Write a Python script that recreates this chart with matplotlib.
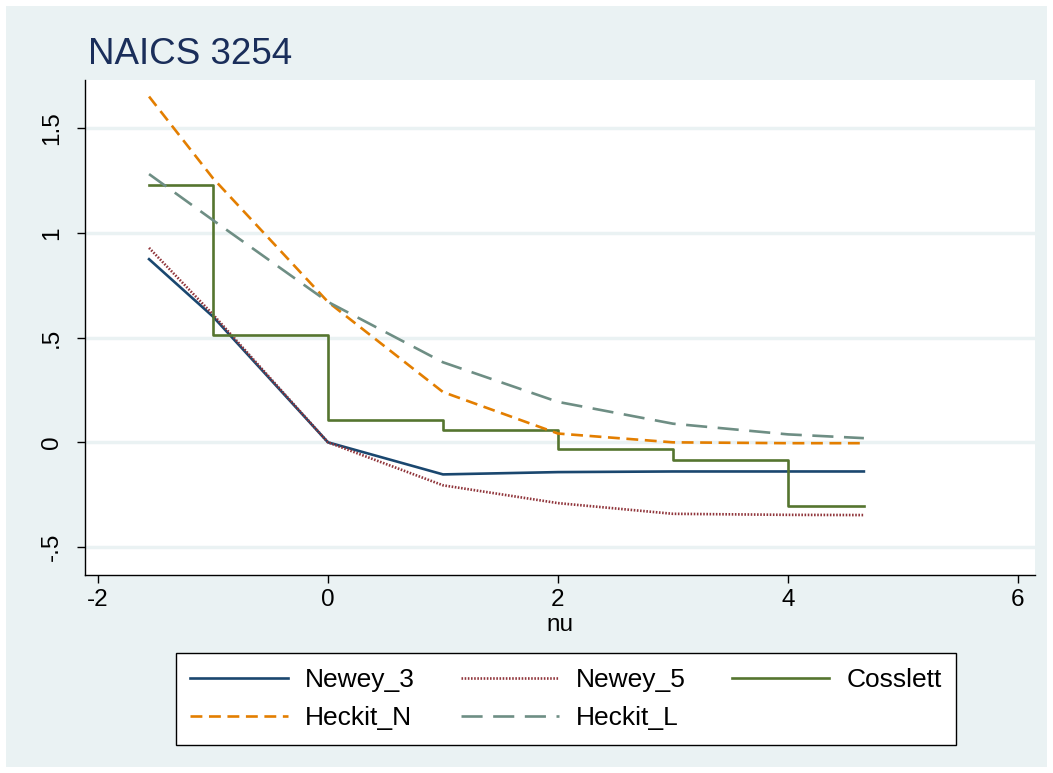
#************ NAICS 3254 : estimates by nu ***************

import matplotlib
matplotlib.use('Agg')
import matplotlib.pyplot as plt
from matplotlib.patches import Rectangle

plt.rcParams['font.family'] = ['Liberation Sans', 'DejaVu Sans']
plt.rcParams['axes.unicode_minus'] = False

#data
nu = [-1.556, -1, 0, 1, 2, 3, 4, 4.66]
newey_3 = [0.874, 0.60, 0.0, -0.153, -0.142, -0.139, -0.139, -0.139]
newey_5 = [0.928, 0.61, 0.0, -0.205, -0.290, -0.341, -0.346, -0.347]
heckit_n = [1.65, 1.26, 0.67, 0.24, 0.042, 0.0, -0.004, -0.004]
heckit_l = [1.28, 1.06, 0.67, 0.382, 0.193, 0.089, 0.038, 0.020]
# Cosslett is a step function, value holds until next nu
cosslett = [1.226, 0.513, 0.107, 0.057, -0.030, -0.083, -0.304, -0.304]

yticks = [-0.5, 0, 0.5, 1, 1.5]
ylabels = ['-.5', '0', '.5', '1', '1.5']
xticks = [-2, 0, 2, 4, 6]

bg = '#eaf2f3'

fig = plt.figure(figsize=(10.53, 7.73), dpi=100)
fig.patch.set_facecolor('white')
fig.patches.append(Rectangle((6/1053, 6/773), 1041/1053, 761/773,
                             transform=fig.transFigure, facecolor=bg,
                             edgecolor='none', zorder=-10))

ax = fig.add_axes([85/1053, 1 - 575/773, 950/1053, 495/773])
ax.set_facecolor('white')

l1, = ax.plot(nu, newey_3, color='#1a476f', lw=1.9, label='Newey_3')
l2, = ax.plot(nu, newey_5, color='#90353b', lw=1.9, ls=(0, (0.6, 0.6)), label='Newey_5')
l3, = ax.step(nu, cosslett, where='post', color='#55752f', lw=1.9, label='Cosslett')
l4, = ax.plot(nu, heckit_n, color='#e37e00', lw=1.9, ls=(0, (4.5, 2.5)), label='Heckit_N')
l5, = ax.plot(nu, heckit_l, color='#6e8e84', lw=1.9, ls=(0, (8, 4)), label='Heckit_L')

ax.set_xlim(-2.113, 6.148)
ax.set_ylim(-0.633, 1.729)
ax.set_xticks(xticks)
ax.set_yticks(yticks)
ax.set_yticklabels(ylabels, rotation=90, va='center')
ax.tick_params(labelsize=17.5, length=6, width=1, colors='black', pad=4)
ax.tick_params(axis='y', pad=10)
ax.grid(axis='y', color=bg, lw=2.5)
ax.set_axisbelow(True)
for s in ['top', 'right']:
    ax.spines[s].set_visible(False)
for s in ['left', 'bottom']:
    ax.spines[s].set_linewidth(1)

ax.set_xlabel('nu', fontsize=17.5, labelpad=2)

fig.text(88/1053, 1 - 55/773, 'NAICS 3254', fontsize=26.5, color='#1a2e5a',
         va='center', ha='left')

# legend fills by column, so reorder to get row-wise layout
hh = [l1, l4, l2, l5, l3]
leg = ax.legend(hh, [h.get_label() for h in hh], ncol=3, loc='center',
                bbox_to_anchor=(566/1053, 1 - 699/773),
                bbox_transform=fig.transFigure, fontsize=19, frameon=True,
                fancybox=False, edgecolor='black', facecolor='white',
                framealpha=1, handlelength=3.7,
                columnspacing=1.75, handletextpad=0.65, borderpad=0.55,
                labelspacing=0.55)
leg.get_frame().set_linewidth(1)

fig.savefig('out.png', dpi=100)
